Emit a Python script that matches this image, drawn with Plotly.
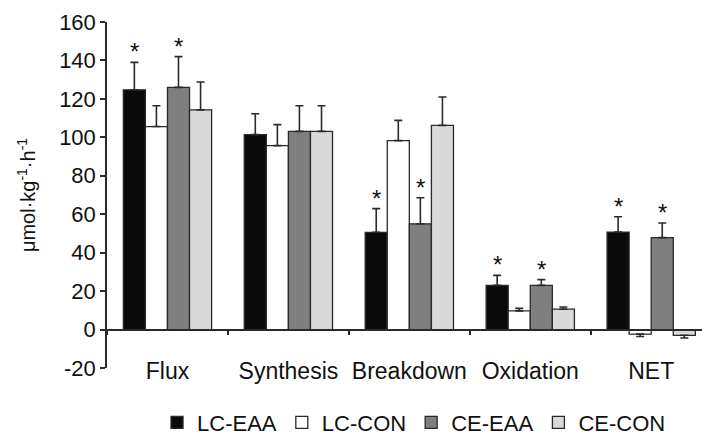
import plotly.graph_objects as go

categories = ["Flux", "Synthesis", "Breakdown", "Oxidation", "NET"]
series_names = ["LC-EAA", "LC-CON", "CE-EAA", "CE-CON"]

lc_eaa = [124.7, 101.4, 50.6, 23.0, 50.7]
lc_con = [105.6, 95.7, 98.3, 9.7, -2.4]
ce_eaa = [126.0, 103.1, 55.0, 23.0, 47.8]
ce_con = [114.3, 103.1, 106.2, 10.6, -3.0]

lc_eaa_err = [14.3, 10.9, 12.3, 5.2, 8.0]
lc_con_err = [10.8, 10.9, 10.5, 1.3, 1.2]
ce_eaa_err = [16.0, 13.3, 13.6, 3.0, 7.6]
ce_con_err = [14.5, 13.3, 14.8, 1.1, 1.4]

lc_eaa_sig = [True, False, True, True, True]
lc_con_sig = [False, False, False, False, False]
ce_eaa_sig = [True, False, True, True, True]
ce_con_sig = [False, False, False, False, False]

y_ticks = [-20, 0, 20, 40, 60, 80, 100, 120, 140, 160]

values = [lc_eaa, lc_con, ce_eaa, ce_con]
errors = [lc_eaa_err, lc_con_err, ce_eaa_err, ce_con_err]
sigs = [lc_eaa_sig, lc_con_sig, ce_eaa_sig, ce_con_sig]
colors = ["#0a0a0a", "#ffffff", "#7f7f7f", "#d9d9d9"]

FONT = "Liberation Sans, Arial, sans-serif"
bargap = 0.27

fig = go.Figure()
for name, vals, errs, col in zip(series_names, values, errors, colors):
    up = [e if v >= 0 else 0 for v, e in zip(vals, errs)]
    down = [e if v < 0 else 0 for v, e in zip(vals, errs)]
    fig.add_trace(go.Bar(
        x=categories, y=vals, name=name,
        marker=dict(color=col, line=dict(color="#2a2a2a", width=1.3)),
        error_y=dict(type="data", symmetric=False, array=up, arrayminus=down,
                     color="#2a2a2a", thickness=1.6, width=4),
    ))

# significance asterisks above error bars
nser = len(series_names)
bw = (1 - bargap) / nser
annotations = []
for j, (vals, errs, sg) in enumerate(zip(values, errors, sigs)):
    off = (j - (nser - 1) / 2) * bw
    for i, (v, e, s) in enumerate(zip(vals, errs, sg)):
        if s:
            annotations.append(dict(
                x=i + off, y=v + e, xref="x", yref="y", text="*",
                showarrow=False, yanchor="bottom", yshift=-5,
                font=dict(size=24, color="#111", family=FONT),
            ))

fig.update_layout(
    width=702, height=434,
    margin=dict(l=107, r=0, t=22, b=66, autoexpand=False),
    paper_bgcolor="white", plot_bgcolor="white",
    barmode="group", bargap=bargap, bargroupgap=0,
    font=dict(family=FONT, size=22, color="#111"),
    showlegend=True,
    legend=dict(orientation="h", x=0.516, xanchor="center", y=-0.158, yanchor="middle",
                font=dict(size=22), itemwidth=30, traceorder="normal"),
    annotations=annotations,
)
fig.update_xaxes(
    range=[-0.5, 4.42], anchor="free", position=20 / 180,
    showline=True, linecolor="#2a2a2a", linewidth=1.5,
    ticks="outside", tickson="boundaries", ticklen=5, tickcolor="#2a2a2a", tickwidth=1.5,
    ticklabelstandoff=21, showgrid=False, zeroline=False,
    tickangle=0, tickfont=dict(size=23),
)
fig.update_yaxes(
    range=[-20, 160], tickvals=y_ticks, ticktext=[str(t) for t in y_ticks],
    showline=True, linecolor="#2a2a2a", linewidth=1.5,
    ticks="outside", ticklen=5, tickcolor="#2a2a2a", tickwidth=1.5,
    showgrid=False, zeroline=False, tickfont=dict(size=22),
    title=dict(text="μmol·kg<sup>-1</sup>·h<sup>-1</sup>", font=dict(size=20), standoff=18),
)

fig.write_html("out.html")
